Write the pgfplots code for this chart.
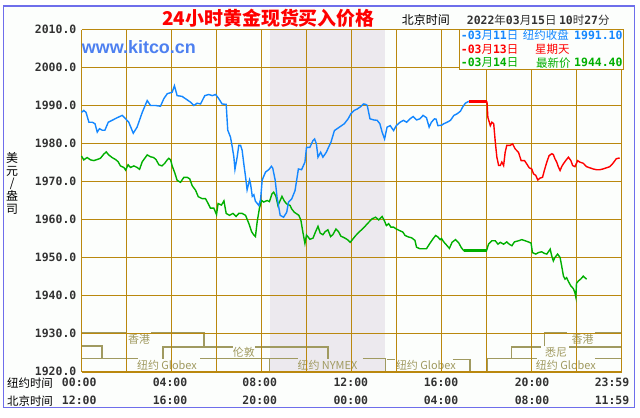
\documentclass[border=0pt]{standalone}
\usepackage{fontspec}
\usepackage{pgfplots}
\pgfplotsset{compat=1.18}
\setmainfont{Noto Sans CJK SC}
\newfontfamily\mono{DejaVu Sans Mono}
\newfontfamily\lat{Liberation Sans}
\newcommand\fs[1]{\fontsize{#1}{#1}\selectfont}
\newcommand\num[1]{{\mono\bfseries #1}}

\definecolor{bgc}{RGB}{252,254,252}
\definecolor{framec}{RGB}{110,110,235}
\definecolor{gridc}{RGB}{186,136,14}
\definecolor{bandc}{RGB}{236,233,238}
\definecolor{sessc}{RGB}{160,154,96}
\definecolor{tickc}{RGB}{50,50,50}
\definecolor{bluec}{RGB}{20,135,255}
\definecolor{redc}{RGB}{255,0,0}
\definecolor{greenc}{RGB}{0,175,0}
\definecolor{webc}{RGB}{77,128,240}

\begin{document}
\begin{tikzpicture}
\begin{scope}[x=1bp,y=1bp]
\fill[white] (0,0) rectangle (640,417);
\draw[framec, fill=bgc, line width=1.2bp] (3.5,9.7) rectangle (634.3,411);
\end{scope}

\begin{axis}[
  at={(81.5bp,45.5bp)}, anchor=south west,
  scale only axis, width=540bp, height=342bp,
  xmin=0, xmax=24, ymin=1920, ymax=2010,
  axis line style={draw=none},
  xtick=\empty,
  ytick={1920,1930,1940,1950,1960,1970,1980,1990,2000,2010},
  yticklabels={1920.0,1930.0,1940.0,1950.0,1960.0,1970.0,1980.0,1990.0,2000.0,2010.0},
  major tick length=0pt,
  yticklabel style={font=\mono\bfseries\fs{11.5}, text=tickc, anchor=east, inner sep=0pt, xshift=-5bp},
  clip=false,
]
% NYMEX band
\fill[bandc] (axis cs:8.36,1920) rectangle (axis cs:13.51,2010);

% market sessions
\begin{scope}[sessc, line width=1.4bp]
% row 1: Hong Kong
\draw (axis cs:0,1930.3) -- (axis cs:1.99,1930.3);
\draw (axis cs:3.10,1930.3) -- (axis cs:5.44,1930.3) -- (axis cs:5.44,1926.7);
\draw (axis cs:20.57,1926.7) -- (axis cs:20.57,1930.3) -- (axis cs:21.58,1930.3);
\draw (axis cs:22.82,1930.3) -- (axis cs:24,1930.3);
% row 2: London / Sydney
\draw (axis cs:0,1926.7) -- (axis cs:0.91,1926.7) -- (axis cs:0.91,1923.4);
\draw (axis cs:3.62,1923.4) -- (axis cs:3.62,1926.5) -- (axis cs:6.73,1926.5);
\draw (axis cs:7.71,1926.5) -- (axis cs:10.96,1926.5) -- (axis cs:10.96,1923.4);
\draw (axis cs:19.12,1923.4) -- (axis cs:19.12,1926.5) -- (axis cs:20.4,1926.5);
\draw (axis cs:21.67,1926.5) -- (axis cs:24,1926.5);
% row 3: New York
\draw (axis cs:0,1923.4) -- (axis cs:2.51,1923.4);
\draw (axis cs:5.27,1923.4) -- (axis cs:8.36,1923.4) -- (axis cs:8.36,1920);
\draw (axis cs:8.36,1923.4) -- (axis cs:9.62,1923.4);
\draw (axis cs:12.51,1923.4) -- (axis cs:13.51,1923.4) -- (axis cs:13.51,1920);
\draw (axis cs:13.58,1923.2) -- (axis cs:13.93,1923.2);
\draw (axis cs:16.51,1923.2) -- (axis cs:17.27,1923.2) -- (axis cs:17.27,1920);
\draw (axis cs:18.05,1920) -- (axis cs:18.05,1923.4) -- (axis cs:20.24,1923.4);
\draw (axis cs:22.82,1923.4) -- (axis cs:24,1923.4);
\end{scope}
\begin{scope}[every node/.style={text=sessc, font=\fs{11}, inner sep=0pt}]
\node at (axis cs:2.56,1928.5) {香港};
\node at (axis cs:22.27,1928.5) {香港};
\node at (axis cs:7.22,1925.0) {伦敦};
\node at (axis cs:21.09,1925.0) {悉尼};
\node at (axis cs:3.80,1921.6) {纽约 Globex};
\node at (axis cs:10.93,1921.6) {纽约 NYMEX};
\node at (axis cs:15.31,1921.6) {纽约 Globex};
\node at (axis cs:21.53,1921.6) {纽约 Globex};
\end{scope}

% grid
\pgfplotsinvokeforeach{0,2,4,6,8,10,12,14,16,18,20,22,24}{
  \draw[gridc, line width=1bp] (axis cs:#1,1920) -- (axis cs:#1,2010);
}
\pgfplotsinvokeforeach{1930,1940,1950,1960,1970,1980,1990,2000,2010}{
  \draw[gridc, line width=1bp] (axis cs:0,#1) -- (axis cs:24,#1);
}
\draw[gridc, line width=2bp] (axis cs:0,1920) -- (axis cs:24,1920);

% 03/14 latest
\addplot[greenc, line width=1.4bp] coordinates {
(0,1976.7) (0.1,1975.7) (0.25,1976.3) (0.4,1975.7) (0.55,1975.5) (0.7,1975.8) (0.84,1976.1) (0.99,1977.2)
(1.1,1977.8) (1.21,1977.0) (1.36,1976.3) (1.51,1975.8) (1.63,1975.2) (1.73,1974.1) (1.88,1973.7) (1.96,1973.0)
(2.07,1974.4) (2.18,1973.7) (2.33,1974.1) (2.47,1973.7) (2.58,1973.2) (2.7,1975.2) (2.81,1976.1) (2.92,1977.0)
(3.07,1976.5) (3.21,1976.3) (3.32,1975.7) (3.44,1974.4) (3.58,1974.1) (3.7,1974.8) (3.81,1975.7) (3.88,1976.1)
(3.96,1975.7) (4.03,1974.1) (4.15,1972.2) (4.25,1970.3) (4.4,1969.8) (4.55,1971.1) (4.7,1971.1) (4.81,1970.7)
(4.92,1968.9) (5.07,1967.7) (5.19,1966.0) (5.36,1965.5) (5.51,1965.5) (5.63,1964.2) (5.73,1963.0) (5.88,1963.0)
(6.0,1961.3) (6.07,1964.2) (6.22,1963.8) (6.33,1964.9) (6.43,1961.6) (6.58,1961.1) (6.73,1961.6) (6.87,1960.8)
(6.99,1961.6) (7.14,1961.6) (7.29,1961.1) (7.44,1958.9) (7.56,1956.8) (7.66,1955.9) (7.73,1955.5) (7.81,1959.5)
(7.91,1963.0) (8.0,1965.0) (8.1,1964.6) (8.25,1965.0) (8.35,1964.7) (8.47,1966.8) (8.54,1967.2) (8.64,1966.1)
(8.73,1963.7) (8.83,1965.0) (8.91,1966.1) (9.02,1964.8) (9.12,1964.1) (9.27,1963.7) (9.34,1962.8) (9.46,1961.9)
(9.56,1961.5) (9.66,1961.1) (9.75,1959.8) (9.85,1956.3) (9.93,1953.7) (10.0,1955.9) (10.15,1954.8) (10.29,1955.1)
(10.39,1956.6) (10.51,1958.2) (10.61,1956.4) (10.73,1956.0) (10.83,1956.8) (10.95,1957.3) (11.07,1955.5) (11.17,1956.0)
(11.31,1957.5) (11.42,1956.8) (11.53,1955.6) (11.68,1955.2) (11.82,1954.7) (11.94,1954.0) (12.04,1954.7) (12.19,1955.8)
(12.34,1956.7) (12.48,1957.5) (12.63,1958.4) (12.77,1959.3) (12.92,1960.2) (13.07,1960.6) (13.21,1959.9) (13.36,1960.8)
(13.46,1959.7) (13.55,1958.4) (13.65,1958.9) (13.75,1958.0) (13.87,1958.0) (13.99,1957.5) (14.13,1957.1) (14.28,1956.7)
(14.38,1955.8) (14.53,1955.4) (14.67,1955.2) (14.82,1954.5) (14.89,1952.7) (15.04,1952.3) (15.18,1952.3) (15.33,1952.3)
(15.47,1953.6) (15.62,1954.9) (15.74,1955.8) (15.84,1955.4) (15.94,1954.7) (16.0,1955.0) (16.1,1954.1) (16.25,1953.1)
(16.35,1952.4) (16.47,1954.0) (16.62,1954.7) (16.77,1953.8) (16.88,1952.6) (16.99,1951.8) (18.0,1951.8) (18.09,1953.5)
(18.24,1954.4) (18.39,1954.4) (18.51,1953.5) (18.61,1954.0) (18.76,1953.5) (18.9,1954.1) (19.01,1953.5) (19.13,1953.1)
(19.24,1954.1) (19.42,1954.4) (19.57,1954.7) (19.72,1954.4) (19.86,1954.1) (19.98,1953.8) (20.04,1951.3) (20.19,1950.9)
(20.31,1951.3) (20.45,1951.5) (20.57,1951.1) (20.68,1950.9) (20.83,1952.2) (20.9,1950.4) (20.97,1949.1) (21.04,1950.0)
(21.16,1950.9) (21.27,1950.0) (21.34,1947.8) (21.42,1945.1) (21.49,1944.3) (21.56,1944.7) (21.63,1943.8) (21.75,1942.5)
(21.86,1941.8) (21.93,1940.7) (21.97,1939.6) (22.0,1943.2) (22.08,1943.8) (22.2,1944.4) (22.3,1945.1) (22.37,1944.7)
(22.45,1944.3)
};
\addplot[greenc, line width=3bp] coordinates {(16.99,1951.8) (18.0,1951.8)};

% 03/11 New York close
\addplot[bluec, line width=1.4bp] coordinates {
(0,1988.2) (0.1,1988.7) (0.2,1988.2) (0.33,1985.6) (0.48,1985.6) (0.6,1985.2) (0.7,1983.0) (0.8,1983.9)
(0.92,1983.5) (1.04,1983.5) (1.19,1985.6) (1.36,1986.1) (1.59,1986.8) (1.81,1987.4) (1.96,1986.5) (2.1,1985.6)
(2.3,1982.7) (2.47,1984.3) (2.7,1988.2) (2.92,1991.3) (3.07,1990.0) (3.29,1990.0) (3.51,1989.8) (3.66,1991.8)
(3.81,1993.1) (4.03,1993.5) (4.13,1995.2) (4.25,1992.6) (4.47,1992.4) (4.62,1991.8) (4.84,1990.9) (4.99,1990.0)
(5.14,1990.6) (5.29,1990.4) (5.48,1992.6) (5.66,1992.9) (5.81,1992.6) (5.96,1992.9) (6.1,1991.8) (6.25,1990.4)
(6.43,1990.3) (6.5,1983.5) (6.62,1981.7) (6.7,1979.1) (6.77,1976.5) (6.82,1973.2) (6.92,1976.5) (6.99,1979.5)
(7.07,1979.5) (7.14,1978.2) (7.21,1974.8) (7.29,1971.3) (7.36,1967.8) (7.47,1970.4) (7.51,1969.5) (7.59,1966.1)
(7.66,1966.5) (7.73,1964.8) (7.8,1964.3) (7.88,1963.7) (7.96,1965.3) (8.03,1970.4) (8.18,1972.5) (8.32,1973.1)
(8.44,1974.0) (8.5,1973.5) (8.61,1970.3) (8.69,1965.9) (8.83,1961.1) (8.98,1960.6) (9.12,1961.9) (9.2,1964.6)
(9.34,1965.4) (9.49,1967.6) (9.64,1973.3) (9.78,1973.1) (9.93,1975.1) (10.0,1979.0) (10.15,1979.0) (10.29,1980.8)
(10.36,1981.2) (10.44,1979.9) (10.51,1976.4) (10.63,1977.7) (10.73,1976.4) (10.88,1977.7) (10.98,1979.0) (11.09,1980.4)
(11.24,1983.4) (11.46,1984.3) (11.68,1985.2) (11.85,1986.5) (11.97,1987.8) (12.12,1988.7) (12.26,1989.1) (12.41,1989.7)
(12.53,1990.4) (12.63,1990.3) (12.7,1990.0) (12.82,1986.5) (12.99,1986.2) (13.14,1986.1) (13.26,1985.2) (13.36,1983.0)
(13.47,1981.2) (13.58,1984.3) (13.72,1984.7) (13.87,1983.4) (13.99,1984.7) (14.16,1985.6) (14.31,1986.1) (14.45,1985.6)
(14.6,1986.5) (14.74,1987.1) (14.89,1986.2) (15.04,1986.5) (15.18,1987.4) (15.33,1986.8) (15.45,1984.3) (15.55,1985.6)
(15.69,1986.5) (15.76,1986.4) (15.84,1984.7) (16.0,1984.8) (16.1,1985.2) (16.25,1985.6) (16.4,1986.1) (16.55,1987.4)
(16.69,1987.8) (16.84,1988.5) (16.94,1989.6) (17.06,1990.6) (17.21,1991.1)
};

% 03/13 Sunday
\addplot[redc, line width=1.4bp] coordinates {
(18.02,1991.1) (18.06,1986.9) (18.17,1984.7) (18.24,1985.6) (18.32,1985.2) (18.39,1980.4) (18.46,1976.4) (18.54,1974.2)
(18.61,1974.2) (18.68,1975.1) (18.76,1974.2) (18.83,1977.7) (18.9,1979.5) (19.05,1979.5) (19.16,1979.9) (19.27,1978.6)
(19.42,1977.7) (19.54,1975.5) (19.69,1975.5) (19.79,1974.6) (19.9,1973.6) (20.01,1973.3) (20.09,1972.0) (20.19,1971.6)
(20.28,1970.4) (20.38,1970.9) (20.49,1971.1) (20.57,1972.9) (20.68,1975.1) (20.78,1976.8) (20.9,1977.3) (20.97,1977.1)
(21.04,1976.0) (21.12,1975.1) (21.19,1973.9) (21.27,1972.9) (21.34,1973.9) (21.41,1974.6) (21.52,1975.5) (21.64,1976.4)
(21.75,1975.5) (21.83,1974.2) (21.93,1973.9) (22.05,1975.5) (22.15,1975.1) (22.3,1974.8) (22.45,1973.9) (22.59,1973.6)
(22.74,1973.3) (22.89,1973.1) (23.03,1973.1) (23.18,1973.3) (23.33,1973.6) (23.48,1973.9) (23.62,1974.8) (23.77,1976.0)
(23.92,1976.2)
};
\addplot[redc, line width=3bp] coordinates {(17.21,1991.1) (18.02,1991.1)};
\end{axis}

\begin{scope}[x=1bp,y=1bp]
% title and clock
\node[text=red, font=\fs{19}\bfseries] at (268.5,399) {24小时黄金现货买入价格};
\node[font=\fs{12}] at (425.8,397) {北京时间};
\node[anchor=west, text=tickc, font=\fs{11.5}, inner sep=0pt] at (466.7,397)
  {\num{2022}年\num{03}月\num{15}日 \num{10}时\num{27}分};
\node[anchor=west, text=webc, font=\lat\bfseries\fs{18}, inner sep=0pt] at (81.7,370.3) {www.kitco.cn};

% legend box
\draw[gridc, fill=bgc, line width=1bp] (459.3,387.7) rectangle (623.3,347.7);
\begin{scope}[every node/.style={anchor=west, inner sep=0pt, font=\fs{11.5}}]
\node[text=bluec] at (460.7,382) {\num{-03}月\num{11}日};
\node[text=bluec] at (522.7,382) {纽约收盘};
\node[text=bluec] at (574,382) {\num{1991.10}};
\node[text=redc] at (460.7,367.5) {\num{-03}月\num{13}日};
\node[text=redc] at (535,367.5) {星期天};
\node[text=greenc] at (460.7,354.3) {\num{-03}月\num{14}日};
\node[text=greenc] at (536,354.3) {最新价};
\node[text=greenc] at (574,354.3) {\num{1944.40}};
\end{scope}

% y axis unit
\node[align=center, font=\fontsize{12}{12.7}\selectfont, inner sep=0pt] at (12.2,233.7) {美\\元\\/\\盎\\司};

% time rows
\node[font=\fs{11.5}] at (30,34.3) {纽约时间};
\node[font=\fs{11.5}] at (30,16.3) {北京时间};
\begin{scope}[every node/.style={text=tickc, font=\mono\bfseries\fs{11.5}, inner sep=0pt}]
\node at (79.2,34.3) {00:00};  \node at (79.2,16.3) {12:00};
\node at (170,34.3) {04:00};   \node at (170,16.3) {16:00};
\node at (259.7,34.3) {08:00}; \node at (259.7,16.3) {20:00};
\node at (350.8,34.3) {12:00}; \node at (350.8,16.3) {00:00};
\node at (441,34.3) {16:00};   \node at (441,16.3) {04:00};
\node at (532,34.3) {20:00};   \node at (532,16.3) {08:00};
\node at (612,34.3) {23:59};   \node at (612,16.3) {11:59};
\end{scope}
\end{scope}
\end{tikzpicture}
\end{document}
